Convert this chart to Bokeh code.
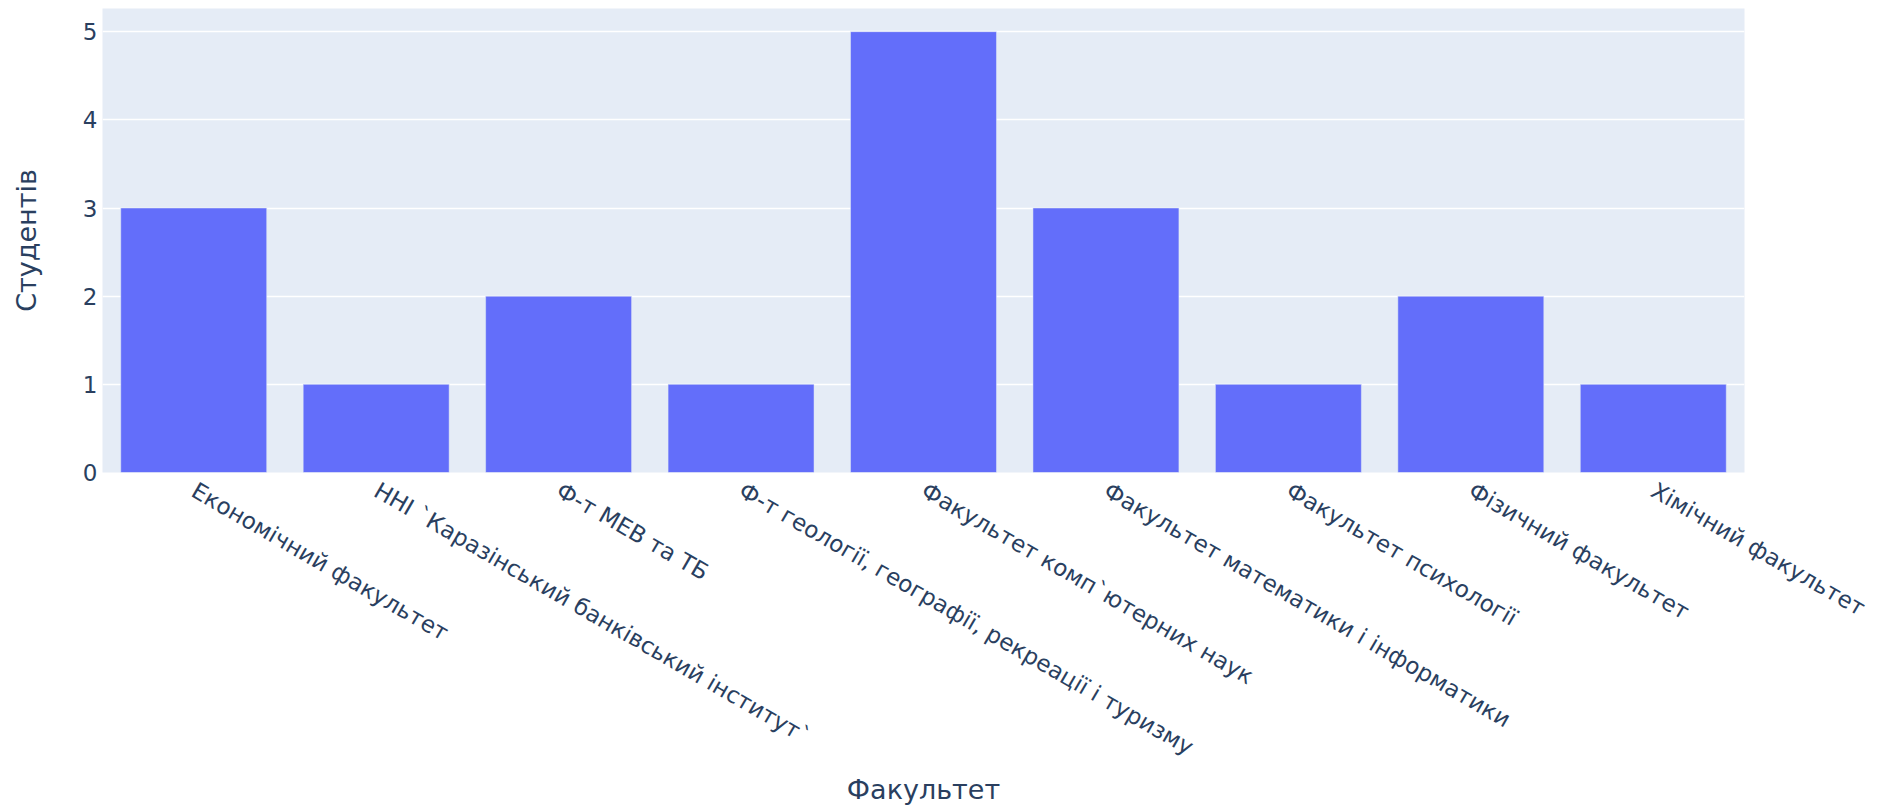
import math
from bokeh.plotting import figure
from bokeh.models import FactorRange, Range1d, ColumnDataSource, FixedTicker
from bokeh.embed import file_html
from bokeh.resources import INLINE

faculties = [
    "Економічний факультет",
    "ННІ  `Каразінський банківський інститут`",
    "Ф-т МЕВ та ТБ",
    "Ф-т геології, географії, рекреації і туризму",
    "Факультет комп`ютерних наук",
    "Факультет математики і інформатики",
    "Факультет психології",
    "Фізичний факультет",
    "Хімічний факультет",
]
students = [3, 1, 2, 1, 5, 3, 1, 2, 1]
y_ticks = [0, 1, 2, 3, 4, 5]

FONT = "DejaVu Sans"
TXT = "#2a3f5f"

src = ColumnDataSource(dict(fac=faculties, n=students))

p = figure(
    x_range=FactorRange(*faculties, range_padding=0),
    y_range=Range1d(0, 5.263),
    width=1878, height=811,
    min_border_left=102, min_border_right=134,
    min_border_top=8, min_border_bottom=339,
    output_backend="svg", toolbar_location=None,
)
p.background_fill_color = "#e5ecf6"
p.border_fill_color = "white"
p.outline_line_color = None

p.vbar(x="fac", top="n", width=0.8, source=src,
       fill_color="#636efa", line_color="#e5ecf6", line_width=0.5)

p.xgrid.grid_line_color = None
p.ygrid.grid_line_color = "white"
p.ygrid.grid_line_width = 1.3

p.yaxis.ticker = FixedTicker(ticks=y_ticks)
for ax in (p.xaxis[0], p.yaxis[0]):
    ax.axis_line_color = None
    ax.major_tick_line_color = None
    ax.minor_tick_line_color = None
    ax.major_tick_out = 0
    ax.major_tick_in = 0
    ax.major_label_text_font = FONT
    ax.major_label_text_color = TXT
    ax.major_label_text_font_size = "23px"
    ax.axis_label_text_font = FONT
    ax.axis_label_text_color = TXT
    ax.axis_label_text_font_size = "27px"
    ax.axis_label_text_font_style = "normal"

p.yaxis.axis_label = "Студентів"
p.yaxis.major_label_standoff = 5
p.yaxis.axis_label_standoff = 38

p.xaxis.axis_label = "Факультет"
p.xaxis.major_label_orientation = -math.pi / 6
p.xaxis.major_label_standoff = 16
p.xaxis.axis_label_standoff = 0

open("out.html", "w").write(file_html(p, INLINE))
